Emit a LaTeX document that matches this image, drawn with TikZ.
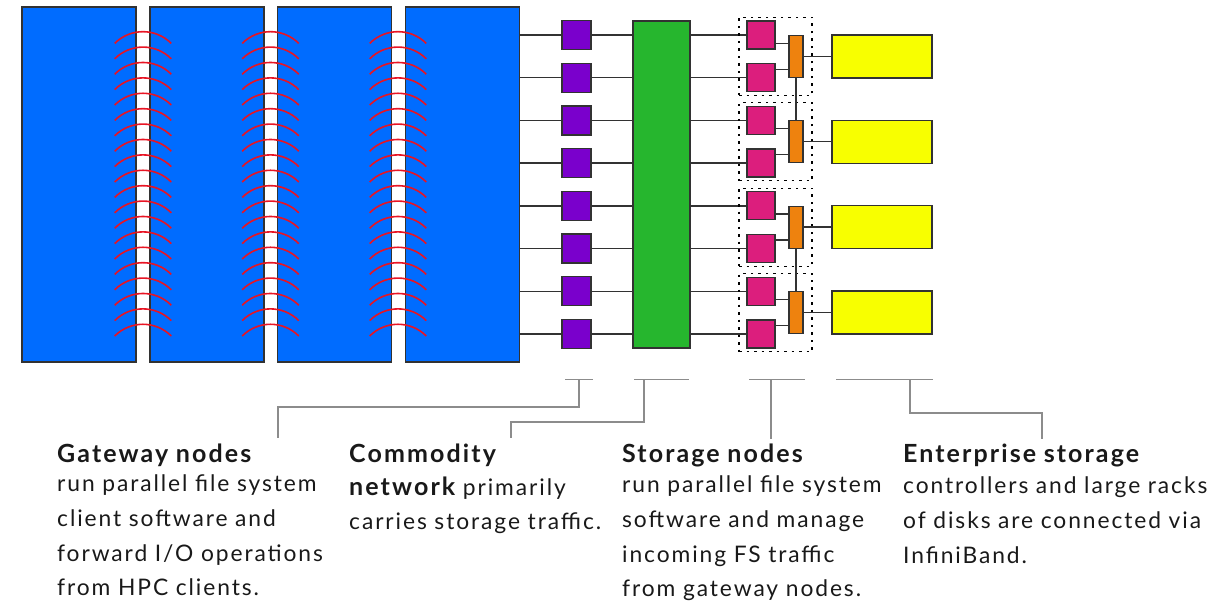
\documentclass[tikz,border=0pt]{standalone}
\usepackage{fontspec}
\setmainfont{Lato}[LetterSpace=8.4]
\definecolor{blueb}{RGB}{0,108,255}
\definecolor{greenb}{RGB}{38,182,46}
\definecolor{purpb}{RGB}{122,0,204}
\definecolor{pinkb}{RGB}{220,30,125}
\definecolor{orangeb}{RGB}{238,130,14}
\definecolor{yellowb}{RGB}{248,255,0}
\definecolor{edgec}{RGB}{50,50,50}
\definecolor{calloutc}{RGB}{140,140,140}
\definecolor{arcc}{RGB}{232,20,35}
\definecolor{txtc}{RGB}{25,25,25}
\newcommand{\hd}[1]{{\fontsize{25pt}{34.7pt}\selectfont\bfseries #1}}
\begin{document}
\begin{tikzpicture}[x=1pt,y=-1pt,
  box/.style={draw=edgec,line width=1.3pt,rectangle,inner sep=0pt,outer sep=0pt},
  wire/.style={draw=edgec,line width=1.4pt},
  callout/.style={draw=calloutc,line width=1.6pt},
  wave/.style={draw=arcc,line width=1.6pt},
  group/.style={draw=black,line width=1.3pt,dash pattern=on 2.5pt off 5pt,rectangle,inner sep=0pt,minimum width=73pt,minimum height=78pt},
  label/.style={anchor=base west,inner sep=0pt,text width=330pt,align=left,text=txtc,font=\fontsize{22.8pt}{34.7pt}\selectfont}
]
\useasboundingbox (0,0) rectangle (1224,608);

% gateway (client) racks
\foreach \i/\cx in {1/79,2/207,3/334.5,4/462.5}
  \node[box,fill=blueb,minimum width=114pt,minimum height=355pt] (b\i) at (\cx,184.5) {};

% wireless arcs in the gaps
\foreach \gx in {143,270.5,398}
  \foreach \k in {0,...,19}
    \draw[wave] (\gx-28.3,31.7+11.7+\k*15.4) arc[start angle=135,end angle=45,radius=40pt];

% commodity network switch
\node[box,fill=greenb,minimum width=57pt,minimum height=327pt] (g) at (661.5,184.5) {};

% gateway NICs and storage nodes
\foreach \r in {0,...,7} {
  \pgfmathsetmacro{\ry}{35+42.7*\r}
  \node[box,fill=purpb,minimum width=29pt,minimum height=29pt] (p\r) at (576.5,\ry) {};
  \node[box,fill=pinkb,minimum width=28pt,minimum height=28pt] (s\r) at (761,\ry) {};
  \draw[wire] (b4.east |- p\r.west) -- (p\r.west);
  \draw[wire] (p\r.east) -- (g.west |- p\r.east);
  \draw[wire] (g.east |- s\r.west) -- (s\r.west);
}

% controllers, enterprise storage, groups
\foreach \k in {0,...,3} {
  \pgfmathsetmacro{\oy}{56.35+85.4*\k}
  \pgfmathtruncatemacro{\ra}{2*\k}
  \pgfmathtruncatemacro{\rb}{2*\k+1}
  \node[group] (grp\k) at (775.5,\oy) {};
  \node[box,fill=orangeb,minimum width=14pt,minimum height=42pt] (o\k) at (796,\oy) {};
  \node[box,fill=yellowb,minimum width=100pt,minimum height=43pt] (y\k) at (882,\oy) {};
  \coordinate (oa\k) at ([yshift=13pt]o\k.west);
  \coordinate (ob\k) at ([yshift=-13pt]o\k.west);
  \draw[wire] (oa\k) -- (s\ra.east |- oa\k);
  \draw[wire] (ob\k) -- (s\rb.east |- ob\k);
  \draw[wire] (o\k.east) -- (y\k.west);
}
\draw[wire] (o0.south) -- (o1.north);
\draw[wire] (o2.south) -- (o3.north);

% labels
\node[label] (tgw) at (57,462) {\hd{Gateway nodes}\\[-5pt]run parallel file system\\client software and\\forward I/O operations\\from HPC clients.};
\node[label] (tcn) at (349,462) {\hd{Commodity}\\[-1.5pt]\hd{network} primarily\\carries storage traffic.};
\node[label] (tsn) at (622,462) {\hd{Storage nodes}\\[-4pt]run parallel file system\\software and manage\\incoming FS traffic\\from gateway nodes.};
\node[label] (tes) at (903,462) {\hd{Enterprise storage}\\[-3pt]controllers and large racks\\of disks are connected via\\InfiniBand.};

% callouts
\coordinate (gbl) at (565,379.5); \coordinate (gbr) at (593,379.5);
\coordinate (cbl) at (634,379.5); \coordinate (cbr) at (689,379.5);
\coordinate (sbl) at (749,379.5); \coordinate (sbr) at (805,379.5);
\coordinate (ebl) at (836,379.5); \coordinate (ebr) at (933,379.5);
\coordinate (gtap) at (579,379.5); \coordinate (gend) at (278,438);
\coordinate (ctap) at (644,379.5); \coordinate (cend) at (511,438);
\coordinate (stap) at (771,379.5); \coordinate (send) at (771,439);
\coordinate (etap) at (910,379.5); \coordinate (eend) at (1042,439);
\draw[callout] (gbl) -- (gbr);
\draw[callout] (cbl) -- (cbr);
\draw[callout] (sbl) -- (sbr);
\draw[callout] (ebl) -- (ebr);
\draw[callout] (gtap) -- ++(0,27.5) -| (gend);
\draw[callout] (ctap) -- ++(0,42.5) -| (cend);
\draw[callout] (stap) -- (send);
\draw[callout] (etap) -- ++(0,33.5) -| (eend);
\end{tikzpicture}
\end{document}
